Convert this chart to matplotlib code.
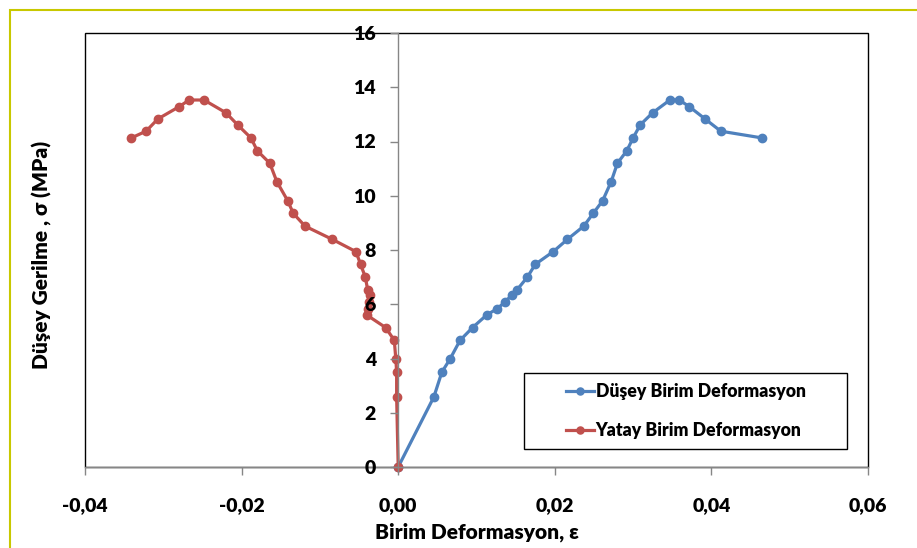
import matplotlib.pyplot as plt
from matplotlib.patches import Rectangle

plt.rcParams['font.family'] = ['Lato', 'DejaVu Sans']

# gerilme (MPa) - ayni yukleme adimlari her iki seri icin
gerilme = [0, 2.58, 3.50, 3.97, 4.67, 5.14, 5.60, 5.83, 6.07, 6.34, 6.54, 7.00, 7.47, 7.94,
           8.39, 8.88, 9.35, 9.81, 10.52, 11.20, 11.66, 12.13, 12.61, 13.06, 13.53, 13.53,
           13.28, 12.83, 12.38, 12.13]

dusey_def = [0, 0.00455, 0.00558, 0.0066, 0.0079, 0.0095, 0.01128, 0.0126, 0.0136, 0.0145,
             0.0152, 0.0165, 0.0175, 0.0198, 0.0216, 0.0237, 0.0249, 0.0261, 0.0272, 0.0280,
             0.0292, 0.0300, 0.0309, 0.0325, 0.0347, 0.0359, 0.0372, 0.0392, 0.0412, 0.0465]

yatay_def = [0, -0.0002, -0.0002, -0.0003, -0.0005, -0.0016, -0.0040, -0.0038, -0.0037, -0.0036,
             -0.0039, -0.0042, -0.0048, -0.0054, -0.0084, -0.0119, -0.0134, -0.0141, -0.0155,
             -0.0164, -0.0180, -0.0188, -0.0205, -0.0220, -0.0248, -0.0267, -0.0280, -0.0307,
             -0.0322, -0.0341]

x_ticks = [-0.04, -0.02, 0.00, 0.02, 0.04, 0.06]
y_ticks = [0, 2, 4, 6, 8, 10, 12, 14, 16]

fig = plt.figure(figsize=(9.17, 5.48), dpi=100)
ax = fig.add_axes([85 / 917, 81 / 548, 783 / 917, 434 / 548])
ax.set_axisbelow(False)

ax.plot(dusey_def, gerilme, '-o', color='#4F81BD', lw=2.3, ms=6, label='Düşey Birim Deformasyon', clip_on=False, zorder=2)
ax.plot(yatay_def, gerilme, '-o', color='#C0504D', lw=2.3, ms=6, label='Yatay Birim Deformasyon', clip_on=False, zorder=2)

ax.set_xlim(-0.04, 0.06)
ax.set_ylim(0, 16)
ax.set_xticks(x_ticks)
ax.set_xticklabels([f'{v:.2f}'.replace('.', ',') for v in x_ticks])
ax.set_yticks(y_ticks)
ax.set_yticklabels([str(v) for v in y_ticks])

# y ekseni x=0'da
ax.spines['left'].set_position(('data', 0))
for s in ['left', 'bottom']:
    ax.spines[s].set_color('#868686')
    ax.spines[s].set_linewidth(1)
ax.spines['top'].set_visible(False)
ax.spines['right'].set_visible(False)
ax.tick_params(axis='both', direction='out', color='#868686', length=6, width=1,
               labelsize=14)
ax.tick_params(axis='y', pad=10)
ax.tick_params(axis='x', pad=16)
for lab in ax.get_xticklabels() + ax.get_yticklabels():
    lab.set_fontweight('heavy')

# plot alani cercevesi
ax.add_patch(Rectangle((0, 0), 1, 1, transform=ax.transAxes, fill=False,
                       edgecolor='black', lw=1, clip_on=False, zorder=1))

ax.set_xlabel('Birim Deformasyon, ε', fontsize=15, fontweight='heavy', labelpad=6)
fig.text(42 / 917, 1 - 255 / 548, 'Düşey Gerilme , σ (MPa)', rotation=90, fontsize=15,
         fontweight='heavy', ha='center', va='center')

# lejant
ax.add_patch(Rectangle((0.561, 0.0415), 0.412, 0.175, transform=ax.transAxes,
                       facecolor='white', edgecolor='black', lw=1, zorder=4))
leg = ax.legend(loc='center', bbox_to_anchor=(0.767, 0.129), frameon=False,
                prop={'weight': 'heavy', 'size': 12.7}, handlelength=1.6,
                handletextpad=0.1, labelspacing=1.25, markerscale=0.85)
leg.set_zorder(6)

# dis cerceve
fig.patches.append(Rectangle((10 / 917, -0.1), 1.2, 1.1 - 10 / 548, transform=fig.transFigure,
                             fill=False, edgecolor='#c8c800', lw=1.5))

fig.savefig('out.png', dpi=100)
